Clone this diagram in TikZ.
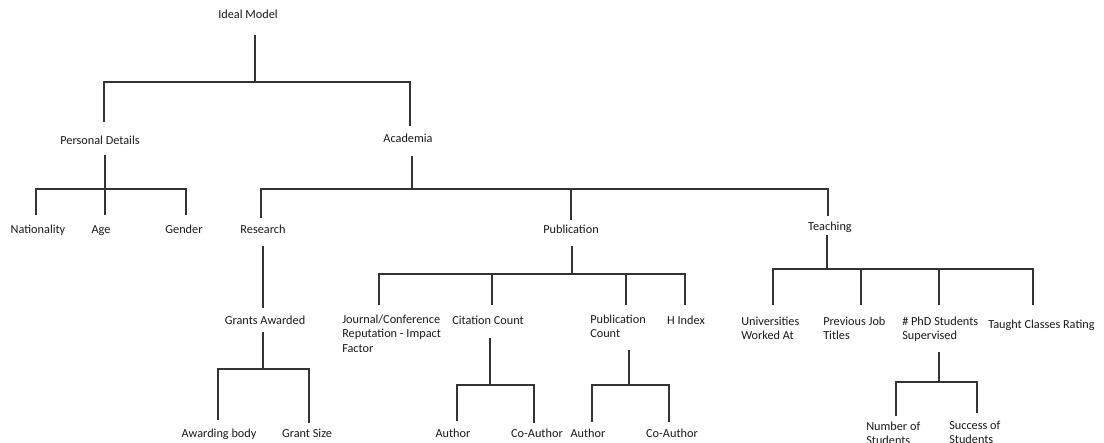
\documentclass[tikz,border=0pt]{standalone}
\usepackage{fontspec}
\setmainfont{Carlito}
\begin{document}
\begin{tikzpicture}[x=0.75pt,y=-0.75pt,
  lbl/.style={anchor=base,inner sep=0pt,font=\fontsize{9.2}{10.6}\selectfont,text=black!90},
  mlbl/.style={anchor=north west,inner sep=0pt,align=left,font=\fontsize{9.2}{10.6}\selectfont,text=black!90},
  conn/.style={line width=1pt,draw=black!80}]
\useasboundingbox (0,0) rectangle (1104,443);
% labels
\node[lbl] (ideal) at (248,18) {Ideal Model};
\node[lbl] (personal) at (100,144) {Personal Details};
\node[lbl] (academia) at (408,142) {Academia};
\node[lbl] (nationality) at (38,233) {Nationality};
\node[lbl] (age) at (101,233) {Age};
\node[lbl] (gender) at (184,233) {Gender};
\node[lbl] (research) at (263,233) {Research};
\node[lbl] (publication) at (571,233) {Publication};
\node[lbl] (teaching) at (830,230) {Teaching};
\node[lbl] (grants) at (265,324) {Grants Awarded};
\node[mlbl] (journal) at (342,315) {Journal/Conference\\Reputation - Impact\\Factor};
\node[lbl] (citation) at (488,324) {Citation Count};
\node[mlbl] (pubcount) at (590,315) {Publication\\Count};
\node[lbl] (hindex) at (686,324) {H Index};
\node[mlbl] (universities) at (741,317) {Universities\\Worked At};
\node[mlbl] (prevjob) at (823,317) {Previous Job\\Titles};
\node[mlbl] (phd) at (902,317) {\# PhD Students\\Supervised};
\node[lbl,anchor=base west] (taught) at (988,328) {Taught Classes Rating};
\node[lbl] (awarding) at (219,437) {Awarding body};
\node[lbl] (grantsize) at (307,437) {Grant Size};
\node[lbl] (author1) at (453,437) {Author};
\node[lbl] (coauthor1) at (537,437) {Co-Author};
\node[lbl] (author2) at (588,437) {Author};
\node[lbl] (coauthor2) at (672,437) {Co-Author};
\node[mlbl] (number) at (866,422) {Number of\\Students};
\node[mlbl] (success) at (949,421) {Success of\\Students};
% connector end points
\coordinate (ideal-b) at (255,35);   \coordinate (ideal-j) at (255,82);
\coordinate (personal-t) at (104,122); \coordinate (academia-t) at (410,126);
\coordinate (personal-b) at (105,155); \coordinate (personal-j) at (105,189);
\coordinate (nationality-t) at (36,215); \coordinate (age-t) at (105,215); \coordinate (gender-t) at (186,215);
\coordinate (academia-b) at (412,156); \coordinate (academia-j) at (412,189);
\coordinate (research-t) at (261,218); \coordinate (publication-t) at (571,220); \coordinate (teaching-t) at (828,216);
\coordinate (research-b) at (263,246); \coordinate (grants-t) at (263,308);
\coordinate (grants-b) at (263,332); \coordinate (grants-j) at (263,369);
\coordinate (awarding-t) at (218,420); \coordinate (grantsize-t) at (309,423);
\coordinate (publication-b) at (572,246); \coordinate (publication-j) at (572,274);
\coordinate (journal-t) at (379,305); \coordinate (citation-t) at (492,305); \coordinate (pubcount-t) at (626,305); \coordinate (hindex-t) at (685,305);
\coordinate (citation-b) at (490,338); \coordinate (citation-j) at (490,385);
\coordinate (author1-t) at (457,421); \coordinate (coauthor1-t) at (534,423);
\coordinate (pubcount-b) at (629,350); \coordinate (pubcount-j) at (629,385);
\coordinate (author2-t) at (592,422); \coordinate (coauthor2-t) at (669,422);
\coordinate (teaching-b) at (827,235); \coordinate (teaching-j) at (827,269);
\coordinate (universities-t) at (773,305); \coordinate (prevjob-t) at (861,305); \coordinate (phd-t) at (939,305); \coordinate (taught-t) at (1033,305);
\coordinate (phd-b) at (939,352); \coordinate (phd-j) at (939,382);
\coordinate (number-t) at (896,416); \coordinate (success-t) at (977,413);
% connectors
\draw[conn] (ideal-b) -- (ideal-j);
\draw[conn] (personal-t) |- (ideal-j) -| (academia-t);
\draw[conn] (personal-b) -- (age-t);
\draw[conn] (nationality-t) |- (personal-j) -| (gender-t);
\draw[conn] (academia-b) -- (academia-j);
\draw[conn] (research-t) |- (academia-j) -| (teaching-t);
\draw[conn] (publication-t) -- (publication-t |- academia-j);
\draw[conn] (research-b) -- (grants-t);
\draw[conn] (grants-b) -- (grants-j);
\draw[conn] (awarding-t) |- (grants-j) -| (grantsize-t);
\draw[conn] (publication-b) -- (publication-j);
\draw[conn] (journal-t) |- (publication-j) -| (hindex-t);
\draw[conn] (citation-t) -- (citation-t |- publication-j);
\draw[conn] (pubcount-t) -- (pubcount-t |- publication-j);
\draw[conn] (citation-b) -- (citation-j);
\draw[conn] (author1-t) |- (citation-j) -| (coauthor1-t);
\draw[conn] (pubcount-b) -- (pubcount-j);
\draw[conn] (author2-t) |- (pubcount-j) -| (coauthor2-t);
\draw[conn] (teaching-b) -- (teaching-j);
\draw[conn] (universities-t) |- (teaching-j) -| (taught-t);
\draw[conn] (prevjob-t) -- (prevjob-t |- teaching-j);
\draw[conn] (phd-t) -- (phd-t |- teaching-j);
\draw[conn] (phd-b) -- (phd-j);
\draw[conn] (number-t) |- (phd-j) -| (success-t);
\end{tikzpicture}
\end{document}
